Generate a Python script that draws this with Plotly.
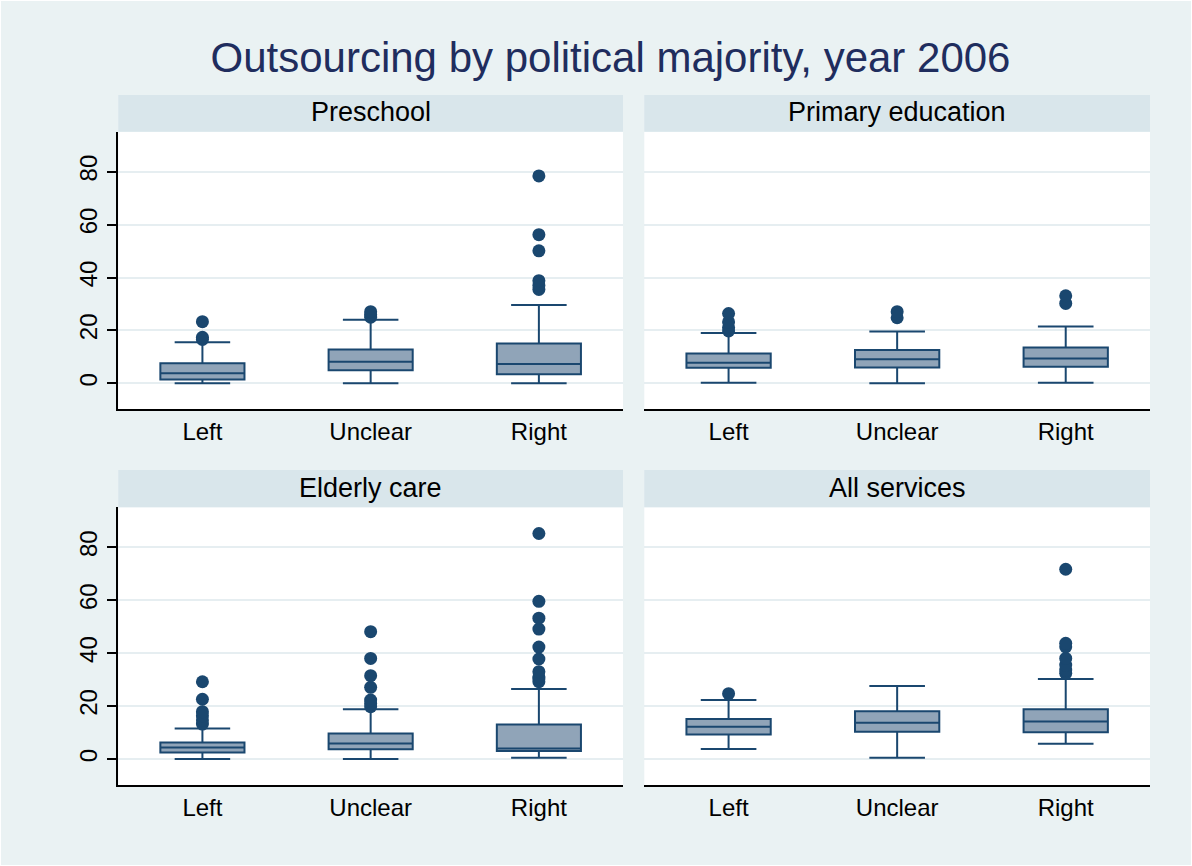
import plotly.graph_objects as go

# ---------------- data ----------------
categories = ["Left", "Unclear", "Right"]
panels = ["Preschool", "Primary education", "Elderly care", "All services"]

# per panel, per category (Left, Unclear, Right)
q1_values = [
    [1.5, 5.0, 3.4],
    [5.9, 6.0, 6.3],
    [2.5, 3.7, 3.0],
    [9.3, 10.3, 10.1],
]
median_values = [
    [3.8, 8.2, 7.3],
    [7.8, 9.1, 9.4],
    [4.4, 5.9, 4.0],
    [12.2, 13.7, 14.2],
]
q3_values = [
    [7.6, 12.8, 15.1],
    [11.3, 12.6, 13.6],
    [6.3, 9.7, 13.1],
    [15.1, 18.1, 18.8],
]
lower_whisker = [
    [0.0, 0.0, 0.0],
    [0.2, 0.0, 0.2],
    [0.0, 0.0, 0.5],
    [3.8, 0.5, 5.8],
]
upper_whisker = [
    [15.5, 24.0, 29.6],
    [19.0, 19.6, 21.5],
    [11.5, 18.8, 26.5],
    [22.3, 27.6, 30.2],
]
outliers_preschool = [
    [16.6, 17.4, 23.3],
    [25.0, 26.0, 27.1],
    [35.5, 37.0, 38.8, 50.1, 56.2, 78.4],
]
outliers_primary = [
    [19.8, 21.1, 23.2, 26.4],
    [24.8, 27.1],
    [30.2, 33.1],
]
outliers_elderly = [
    [13.2, 14.8, 16.4, 17.9, 22.6, 29.2],
    [19.8, 21.0, 22.3, 27.1, 31.5, 38.0, 48.1],
    [29.2, 30.2, 31.1, 33.0, 37.8, 42.3, 49.1, 53.2, 59.6, 85.2],
]
outliers_all = [
    [24.7],
    [],
    [32.4, 33.6, 35.5, 38.0, 42.4, 43.7, 71.7],
]
outliers = [outliers_preschool, outliers_primary, outliers_elderly, outliers_all]
y_ticks = [0, 20, 40, 60, 80]

# ---------------- style ----------------
W, H = 1192, 866
BG = "#EAF2F3"
STRIP = "#D9E6EB"
NAVY = "#1A476F"
BOXFILL = "#90A4B8"
GRID = "#E6EEF1"
FONT = "Liberation Sans, Arial, sans-serif"

# panel pixel boxes (x0, x1, ytop, ybottom)
px_x = [(118.3, 623.0), (644.3, 1150.0)]
px_y = [(131.7, 409.3), (507.3, 785.0)]
strip_y = [(95.0, 131.7), (470.0, 507.3)]

fig = go.Figure()

for p in range(4):
    row, col = divmod(p, 2)
    ax = "" if p == 0 else str(p + 1)
    xref, yref = "x" + ax, "y" + ax
    for c, cat in enumerate(categories):
        fig.add_trace(go.Box(
            x=[cat], q1=[q1_values[p][c]], median=[median_values[p][c]],
            q3=[q3_values[p][c]], lowerfence=[lower_whisker[p][c]],
            upperfence=[upper_whisker[p][c]],
            boxpoints=False, width=0.5, whiskerwidth=0.66,
            fillcolor=BOXFILL, line=dict(color=NAVY, width=2),
            xaxis=xref, yaxis=yref, showlegend=False, hoverinfo="skip",
        ))
        pts = outliers[p][c]
        if pts:
            fig.add_trace(go.Scatter(
                x=[cat] * len(pts), y=pts, mode="markers",
                marker=dict(color=NAVY, size=13, line=dict(width=0)),
                xaxis=xref, yaxis=yref, showlegend=False, hoverinfo="skip",
            ))

    x0, x1 = px_x[col]
    yt, yb = px_y[row]
    xdom = [x0 / W, x1 / W]
    ydom = [1 - yb / H, 1 - yt / H]
    left = col == 0
    fig.update_layout(**{
        "xaxis" + ax: dict(
            domain=xdom, anchor=yref, type="category",
            categoryorder="array", categoryarray=categories,
            range=[-0.5, 2.5], showgrid=False, showline=True,
            linecolor="black", linewidth=1.5, ticks="",
            tickfont=dict(size=24, color="black", family=FONT),
            zeroline=False, fixedrange=True,
        ),
        "yaxis" + ax: dict(
            domain=ydom, anchor=xref, range=[-9.8, 95.1],
            tickvals=y_ticks, showgrid=True, gridcolor=GRID, gridwidth=2,
            zeroline=False, showline=left, linecolor="black", linewidth=1.5,
            ticks="outside" if left else "", ticklen=10, tickwidth=1.5,
            tickcolor="black", showticklabels=left, tickangle=-90,
            tickfont=dict(size=24, color="black", family=FONT),
            fixedrange=True,
        ),
    })
    # strip
    sy0, sy1 = strip_y[row]
    fig.add_shape(type="rect", xref="paper", yref="paper",
                  x0=x0 / W, x1=x1 / W, y0=1 - sy1 / H, y1=1 - sy0 / H,
                  fillcolor=STRIP, line=dict(width=0), layer="below")
    fig.add_annotation(xref="paper", yref="paper",
                       x=(x0 + x1) / 2 / W, y=1 - (sy0 + sy1 - 2) / 2 / H,
                       text=panels[p], showarrow=False,
                       xanchor="center", yanchor="middle",
                       font=dict(size=27, color="black", family=FONT))

# thin outer frame
fig.add_shape(type="rect", xref="paper", yref="paper", x0=0, x1=1, y0=0, y1=1,
              line=dict(color="white", width=2), fillcolor="rgba(0,0,0,0)")

fig.update_layout(
    width=W, height=H,
    margin=dict(l=0, r=0, t=0, b=0),
    paper_bgcolor=BG, plot_bgcolor="white",
    font=dict(family=FONT),
    title=dict(text="Outsourcing by political majority, year 2006",
               x=610.5 / W, y=1 - 57 / H, xanchor="center", yanchor="middle",
               xref="paper", yref="paper",
               font=dict(size=42, color="#1F2D5E", family=FONT)),
    boxmode="overlay",
)

fig.write_html("out.html")
